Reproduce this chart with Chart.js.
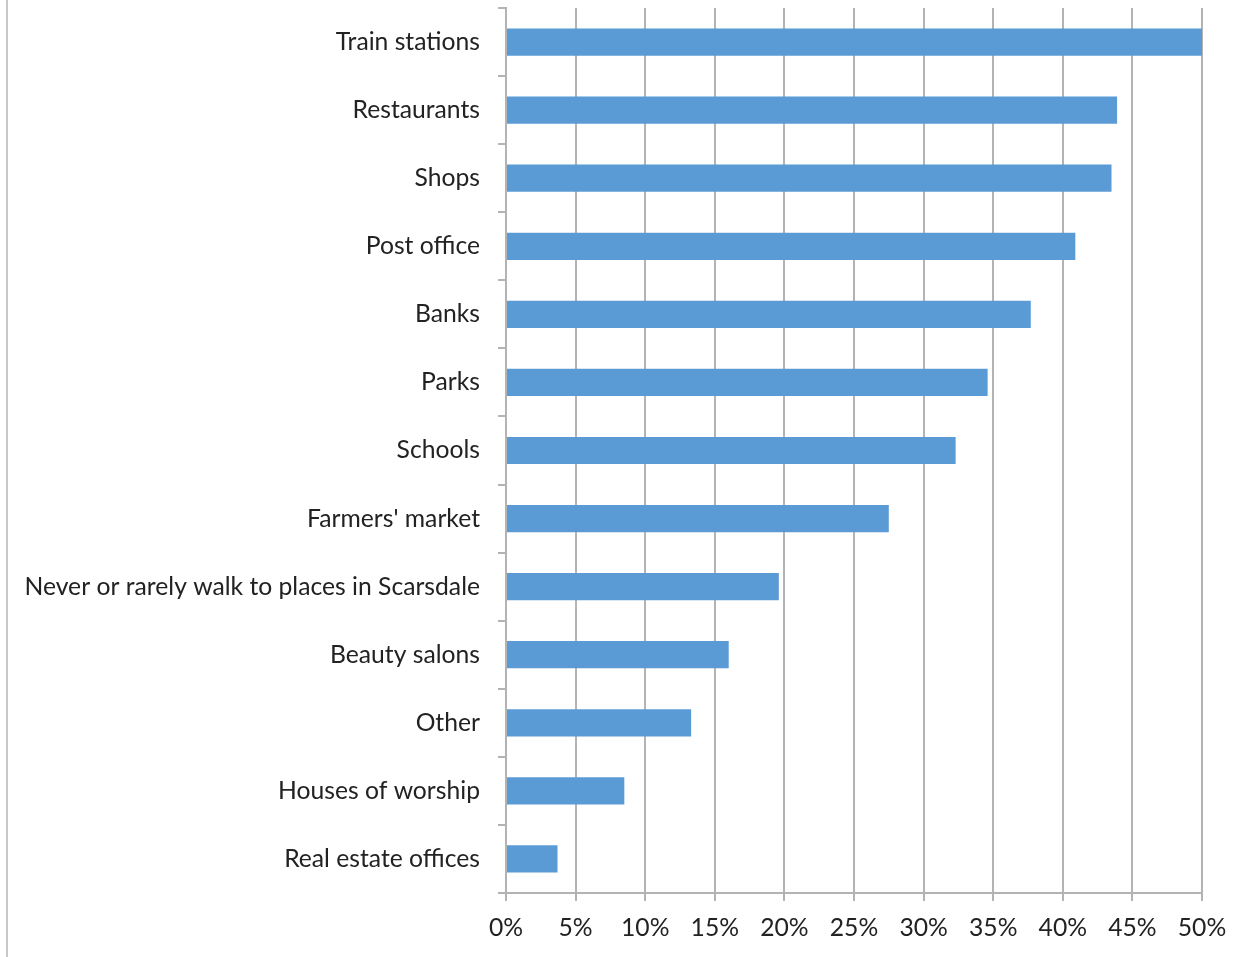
<!DOCTYPE html>
<html>
<head>
<meta charset="utf-8">
<script src="https://cdn.jsdelivr.net/npm/chart.js@4"></script>
<style>
  html, body { margin: 0; padding: 0; background: #fff; }
  #wrap { width: 1250px; height: 957px; position: relative; }
</style>
</head>
<body>
<div id="wrap"><canvas id="chart"></canvas></div>
<script>
const places = [
  'Train stations', 'Restaurants', 'Shops', 'Post office', 'Banks', 'Parks',
  'Schools', "Farmers' market", 'Never or rarely walk to places in Scarsdale',
  'Beauty salons', 'Other', 'Houses of worship', 'Real estate offices'
]
const shares = [50.0, 43.9, 43.5, 40.9, 37.7, 34.6, 32.3, 27.5, 19.6, 16.0, 13.3, 8.5, 3.7]
const xTicks = [0, 5, 10, 15, 20, 25, 30, 35, 40, 45, 50]

const gridColor = '#b3b3b3'
const labelFont = { family: 'Lato, "Open Sans", sans-serif', size: 24.7 }

// thin frame line down the left side of the chart
const frameLine = {
  id: 'frameLine',
  beforeDraw(chart) {
    const ctx = chart.ctx
    ctx.save()
    ctx.strokeStyle = '#c8c8c8'
    ctx.lineWidth = 2
    ctx.beginPath()
    ctx.moveTo(7, 0)
    ctx.lineTo(7, chart.height)
    ctx.stroke()
    ctx.restore()
  }
}

const ctx = document.getElementById('chart').getContext('2d')

new Chart(ctx, {
  type: 'bar',
  data: {
    labels: places,
    datasets: [{
      data: shares,
      backgroundColor: '#5b9bd5',
      borderWidth: 0,
      categoryPercentage: 0.4,
      barPercentage: 1
    }]
  },
  options: {
    indexAxis: 'y',
    responsive: true,
    maintainAspectRatio: false,
    animation: false,
    layout: { padding: { top: 8, right: 48, left: 0, bottom: 0 } },
    plugins: {
      legend: { display: false },
      tooltip: { enabled: false }
    },
    scales: {
      x: {
        min: 0,
        max: 50,
        afterBuildTicks: scale => { scale.ticks = xTicks.map(v => ({ value: v })) },
        afterFit: scale => { scale.height = 64 },
        ticks: {
          callback: v => v + '%',
          color: '#222',
          font: labelFont,
          padding: 12,
          maxRotation: 0
        },
        grid: { color: gridColor, lineWidth: 2, tickLength: 8 },
        border: { color: gridColor, width: 2 }
      },
      y: {
        afterFit: scale => {
          scale.width = 506
          // the bands fill the plot, so no extra room is needed for the end labels
          scale.paddingTop = 0
          scale.paddingBottom = 0
        },
        ticks: {
          color: '#222',
          font: labelFont,
          padding: 18,
          autoSkip: false
        },
        grid: {
          offset: true,
          drawOnChartArea: false,
          color: gridColor,
          lineWidth: 2,
          tickLength: 8
        },
        border: { color: gridColor, width: 2 }
      }
    }
  },
  plugins: [frameLine]
})
</script>
</body>
</html>
